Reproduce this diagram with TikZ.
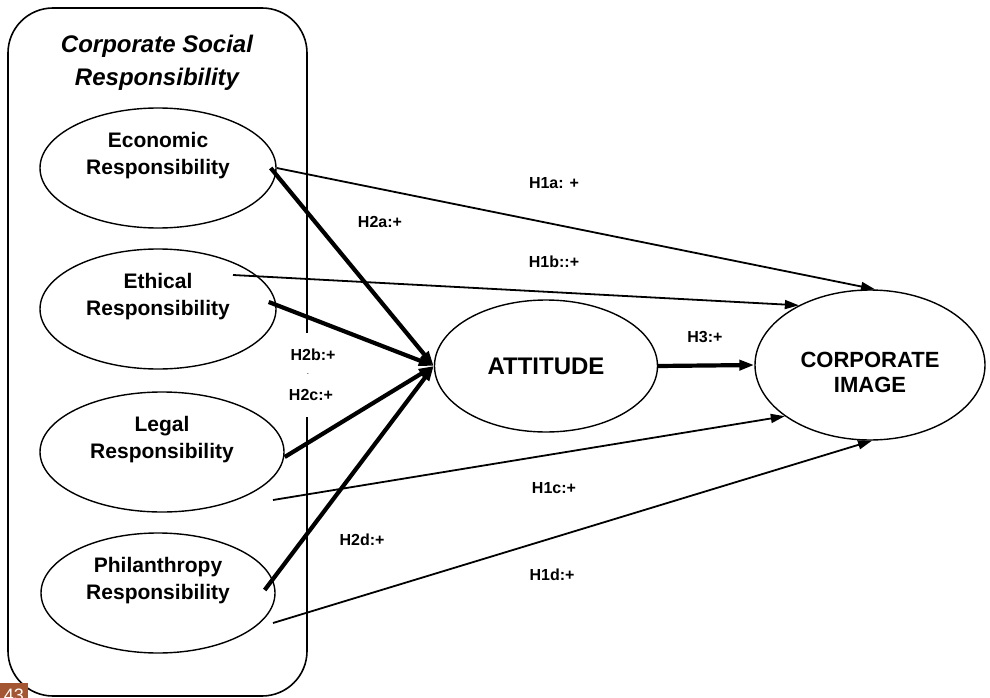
\documentclass[tikz,border=0pt]{standalone}
\usepackage{fontspec}
\setmainfont{Liberation Sans}
\usetikzlibrary{shapes.geometric,arrows.meta,positioning,calc}
\definecolor{BadgeBrown}{RGB}{164,86,50}
\tikzset{
  construct/.style={draw=black,ellipse,line width=1.4pt,
               minimum width=236pt,minimum height=120pt,inner sep=0pt},
  ctext/.style={font=\fontsize{21}{27}\selectfont\bfseries,align=center},
  hyp/.style={font=\fontsize{16}{20}\selectfont\bfseries,inner sep=3pt},
  thinarr/.style={-{Triangle[length=14pt,width=9pt]},line width=1.8pt},
  thickarr/.style={-{Triangle[length=15pt,width=10pt]},line width=4.2pt},
}

\begin{document}
\begin{tikzpicture}[x=1pt,y=-1pt]
    \useasboundingbox (0,0) rectangle (990,698);

    % CSR frame
    \node[draw,line width=1.6pt,rounded corners=45pt,minimum width=299pt,minimum height=688pt] (csr) at (157.5,352) {};
    \node[font=\fontsize{24}{33}\selectfont\bfseries\itshape,align=center] (csrtitle) at (157,63) {Corporate Social\\Responsibility};

    % Dimensions
    \node[construct] (eco) at (158,168) {};
    \node[ctext] (ecotxt) at ([yshift=12pt]eco.center) {Economic\\Responsibility};
    \node[construct] (eth) at (158,309) {};
    \node[ctext] (ethtxt) at ([yshift=12pt]eth.center) {Ethical\\Responsibility};
    \node[construct,minimum width=244pt] (leg) at (162,452) {};
    \node[ctext] (legtxt) at ([yshift=12pt]leg.center) {Legal\\Responsibility};
    \node[construct,minimum width=234pt] (phi) at (158,593) {};
    \node[ctext] (phitxt) at ([yshift=12pt]phi.center) {Philanthropy\\Responsibility};

    % Attitude and image
    \node[construct,minimum width=223pt,minimum height=132pt,font=\fontsize{24}{28}\selectfont\bfseries] (att) at (546,366) {ATTITUDE};
    \node[construct,minimum width=230pt,minimum height=150pt,font=\fontsize{22}{25}\selectfont\bfseries,align=center] (ci) at (870,365) {};
    \node[font=\fontsize{22}{25}\selectfont\bfseries,align=center] (citxt) at ([yshift=-7pt]ci.center) {CORPORATE\\IMAGE};

    % Labels over the frame
    \node[hyp,fill=white,minimum height=44pt] (h2b) at (313,355) {H2b:+};
    \node[hyp,fill=white,minimum height=44pt] (h2c) at (311,395) {H2c:+};
    \node[font=\fontsize{8}{8}\selectfont,inner sep=0pt] (h2dot) at (308,374) {.};

    % Direct paths
    \coordinate (ethout) at ([shift={(75,-34)}]eth.center);
    \coordinate (legout) at (273,500);
    \coordinate (phiout) at (273,623);
    \draw[thinarr] (eco.east) -- ([xshift=5pt]ci.north);
    \draw[thinarr] (ethout) -- (ci.140);
    \draw[thinarr] (legout) -- (ci.211);
    \draw[thinarr] (phiout) -- ([xshift=2pt]ci.south);

    % Paths via attitude
    \draw[thickarr] ([xshift=-6pt]eco.east) -- (att.west);
    \draw[thickarr] ([shift={(-8,-7)}]eth.east) -- (att.west);
    \draw[thickarr] ([yshift=-5pt]leg.east) -- (att.west);
    \draw[thickarr] ([shift={(-11,-3)}]phi.east) -- (att.west);
    \draw[thickarr] (att.east) -- (ci.west);

    % Hypotheses
    \node[hyp] (h1a) at (554,183) {H1a: +};
    \node[hyp] (h1b) at (554,262) {H1b::+};
    \node[hyp] (h2a) at (380,222) {H2a:+};
    \node[hyp] (h2d) at (362,540) {H2d:+};
    \node[hyp] (h1c) at (554,488) {H1c:+};
    \node[hyp] (h1d) at (552,575) {H1d:+};
    \node[hyp] (h3) at (705,337) {H3:+};

    % Page badge
    \node[fill=BadgeBrown,text=white,font=\fontsize{18}{18}\selectfont,minimum width=28pt,minimum height=24pt,inner sep=0pt] (page) at (14,695) {43};
\end{tikzpicture}
\end{document}
